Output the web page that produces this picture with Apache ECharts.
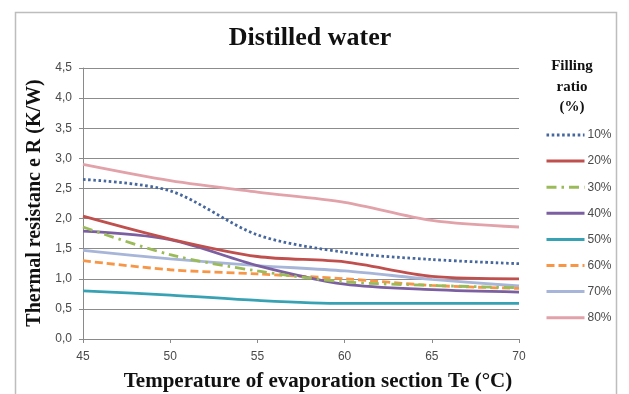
<!DOCTYPE html>
<html>
<head>
<meta charset="utf-8">
<script src="https://cdn.jsdelivr.net/npm/echarts@6/dist/echarts.min.js"></script>
<style>
  html, body { margin: 0; padding: 0; background: #fff; }
  #chart { width: 629px; height: 394px; }
</style>
</head>
<body>
<div id="chart"></div>
<script>
// Evaporation section temperature (°C)
const temperatures = [45, 50, 55, 60, 65, 70];

// Thermal resistance R (K/W) for each filling ratio
const r10 = [2.65, 2.46, 1.73, 1.44, 1.32, 1.25];
const r20 = [2.04, 1.66, 1.37, 1.28, 1.04, 1.00];
const r30 = [1.86, 1.40, 1.13, 0.95, 0.89, 0.85];
const r40 = [1.79, 1.65, 1.22, 0.91, 0.82, 0.78];
const r50 = [0.80, 0.73, 0.64, 0.59, 0.59, 0.59];
const r60 = [1.30, 1.15, 1.08, 1.00, 0.89, 0.84];
const r70 = [1.47, 1.33, 1.22, 1.13, 0.99, 0.88];
const r80 = [2.90, 2.63, 2.44, 2.27, 1.97, 1.86];

const seriesNames = ['10%', '20%', '30%', '40%', '50%', '60%', '70%', '80%'];
const seriesValues = [r10, r20, r30, r40, r50, r60, r70, r80];

const styles = [
  { color: '#46679d', type: [2.6, 2.6] },
  { color: '#c0504d', type: 'solid' },
  { color: '#9bbb59', type: [10, 5, 2.5, 5] },
  { color: '#7b5fa0', type: 'solid' },
  { color: '#37a2b3', type: 'solid' },
  { color: '#f79646', type: [8, 4] },
  { color: '#a7b5d9', type: 'solid' },
  { color: '#e2a2aa', type: 'solid' }
];

const series = seriesNames.map((name, i) => ({
  name: name,
  type: 'line',
  smooth: 0.3,
  symbol: 'none',
  data: temperatures.map((t, k) => [t, seriesValues[i][k]]),
  lineStyle: { color: styles[i].color, width: 2.8, type: styles[i].type, cap: 'butt' },
  itemStyle: { color: styles[i].color },
  z: 10 - i
}));

const chart = echarts.init(document.getElementById('chart'), null, { renderer: 'canvas' });

const tickFont = { fontFamily: 'Liberation Sans, Arial, sans-serif', fontSize: 12, color: '#4a4a4a' };
const serifBold = 'Liberation Serif, Times New Roman, serif';

chart.setOption({
  backgroundColor: '#ffffff',
  animation: false,
  grid: { left: 83, right: 110, top: 68, bottom: 55 },
  xAxis: {
    type: 'value',
    min: 45, max: 70, interval: 5,
    axisLine: { show: true, lineStyle: { color: '#8a8a8a', width: 1 } },
    axisTick: { show: true, length: 4, lineStyle: { color: '#8a8a8a' } },
    axisLabel: Object.assign({ margin: 12 }, tickFont),
    splitLine: { show: false }
  },
  yAxis: {
    type: 'value',
    min: 0, max: 4.5, interval: 0.5,
    axisLine: { show: true, lineStyle: { color: '#8a8a8a', width: 1 } },
    axisTick: { show: true, length: 4, lineStyle: { color: '#8a8a8a' } },
    axisLabel: Object.assign({
      margin: 11,
      formatter: v => v.toFixed(1).replace('.', ',')
    }, tickFont),
    splitLine: { show: true, lineStyle: { color: '#8c8c8c', width: 1 } }
  },
  legend: {
    orient: 'vertical',
    left: 545, top: 129,
    padding: 0,
    itemWidth: 38, itemHeight: 12,
    itemGap: 14.1,
    itemStyle: { color: 'transparent', borderWidth: 0, opacity: 0 },
    lineStyle: { width: 3 },
    textStyle: Object.assign({ padding: [0, 0, 0, -2] }, tickFont),
    data: seriesNames
  },
  graphic: [
    {
      type: 'rect', silent: true, z: -1,
      shape: { x: 15.5, y: 12.5, width: 601, height: 400 },
      style: { fill: 'none', stroke: '#bdbdbd', lineWidth: 1.5 }
    },
    {
      type: 'text', silent: true,
      style: {
        x: 310, y: 38, text: 'Distilled water',
        font: 'bold 26px ' + serifBold, fill: '#111',
        textAlign: 'center', textVerticalAlign: 'middle'
      }
    },
    {
      type: 'text', silent: true,
      style: {
        x: 318, y: 382, text: 'Temperature of evaporation section Te (°C)',
        font: 'bold 21px ' + serifBold, fill: '#111',
        textAlign: 'center', textVerticalAlign: 'middle'
      }
    },
    {
      type: 'text', silent: true,
      x: 35, y: 203, rotation: Math.PI / 2,
      style: {
        x: 0, y: 0, text: 'Thermal resistanc e R (K/W)',
        font: 'bold 20px ' + serifBold, fill: '#111',
        textAlign: 'center', textVerticalAlign: 'middle'
      }
    },
    {
      type: 'text', silent: true,
      style: {
        x: 572, y: 87, text: 'Filling\nratio\n(%)',
        font: 'bold 15px ' + serifBold, fill: '#111',
        textAlign: 'center', textVerticalAlign: 'middle', lineHeight: 20.5
      }
    }
  ],
  series: series
});
</script>
</body>
</html>
